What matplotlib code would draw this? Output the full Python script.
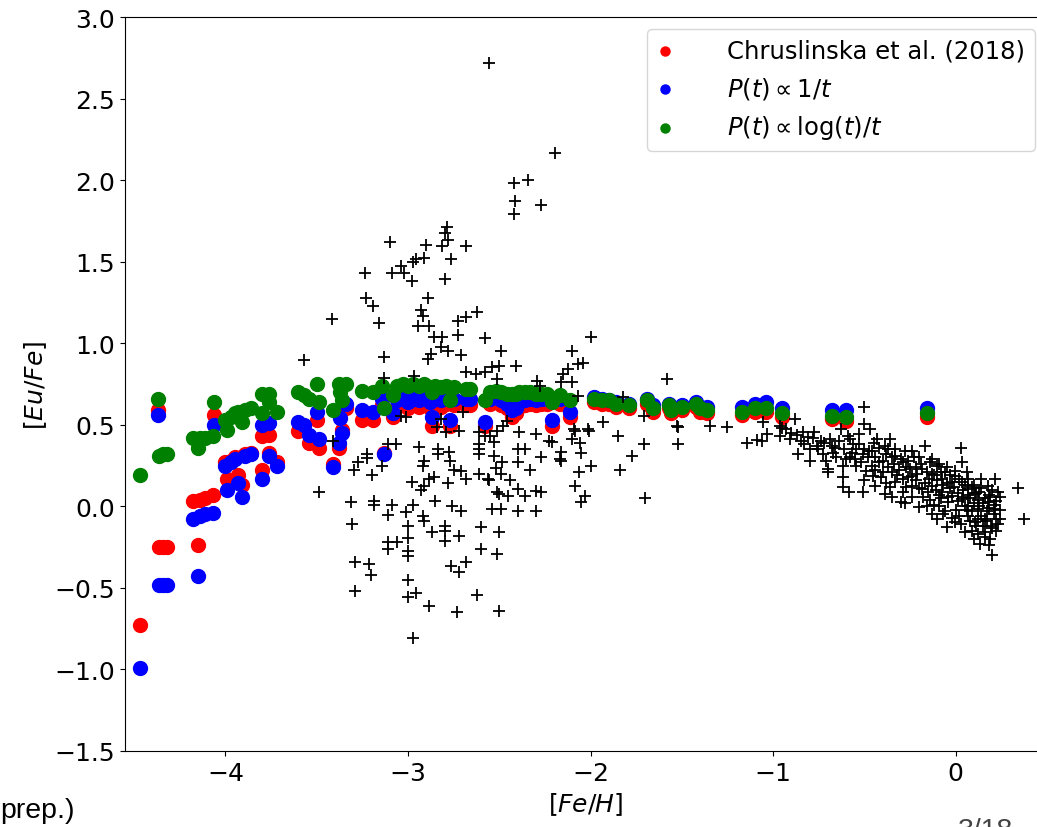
import numpy as np
import matplotlib
matplotlib.use("Agg")
import matplotlib.pyplot as plt

# model points: [Fe/H] and [Eu/Fe] for the three delay-time models
feh_model = [-4.47, -4.37, -4.365, -4.342, -4.32, -4.18, -4.15, -4.14, -4.11, -4.07,
             -4.06, -4.00, -3.99, -3.97, -3.95, -3.93, -3.91, -3.89, -3.86,
             -3.80, -3.80, -3.76, -3.76, -3.72,
             -3.60, -3.57, -3.54, -3.49, -3.50, -3.41,
             -3.38, -3.36, -3.34, -3.37, -3.25, -3.19, -3.13, -3.14, -3.08,
             -3.06, -3.03, -3.00, -2.97, -2.94, -2.91, -2.88, -2.87, -2.85, -2.82,
             -2.79, -2.77, -2.75, -2.68, -2.66, -2.58, -2.55, -2.52, -2.49, -2.46,
             -2.43, -2.41, -2.39, -2.36, -2.33, -2.30, -2.27, -2.24, -2.21, -2.17, -2.11,
             -1.98, -1.94, -1.90, -1.86, -1.79, -1.69, -1.66, -1.57, -1.56, -1.50,
             -1.42, -1.40, -1.36, -1.17, -1.10, -1.04, -0.95, -0.68, -0.60, -0.16]
eu_chrus = [-0.73, 0.59, -0.25, -0.25, -0.25, 0.03, -0.24, 0.04, 0.05, 0.07,
            0.56, 0.27, 0.17, 0.28, 0.30, 0.19, 0.13, 0.32, 0.33,
            0.43, 0.22, 0.44, 0.33, 0.27,
            0.46, 0.47, 0.39, 0.36, 0.53, 0.26,
            0.36, 0.47, 0.60, 0.58, 0.53, 0.53, 0.33, 0.62, 0.55,
            0.61, 0.62, 0.60, 0.62, 0.61, 0.63, 0.60, 0.49, 0.62, 0.61,
            0.63, 0.49, 0.62, 0.62, 0.62, 0.49, 0.63, 0.64, 0.62, 0.60,
            0.55, 0.57, 0.61, 0.62, 0.63, 0.62, 0.63, 0.63, 0.49, 0.63, 0.55,
            0.64, 0.63, 0.63, 0.61, 0.60, 0.63, 0.58, 0.60, 0.57, 0.59,
            0.61, 0.58, 0.57, 0.56, 0.58, 0.58, 0.55, 0.535, 0.525, 0.55]
eu_inv_t = [-0.99, 0.56, -0.48, -0.48, -0.48, -0.08, -0.43, -0.06, -0.05, -0.04,
            0.50, 0.25, 0.10, 0.27, 0.29, 0.14, 0.06, 0.31, 0.32,
            0.50, 0.17, 0.51, 0.31, 0.25,
            0.52, 0.50, 0.44, 0.41, 0.58, 0.24,
            0.39, 0.45, 0.63, 0.54, 0.59, 0.58, 0.32, 0.66, 0.57,
            0.65, 0.66, 0.64, 0.66, 0.65, 0.67, 0.64, 0.55, 0.66, 0.65,
            0.67, 0.53, 0.66, 0.66, 0.66, 0.52, 0.66, 0.67, 0.65, 0.63,
            0.59, 0.60, 0.64, 0.65, 0.66, 0.65, 0.66, 0.66, 0.53, 0.66, 0.58,
            0.67, 0.66, 0.65, 0.64, 0.63, 0.66, 0.62, 0.63, 0.60, 0.62,
            0.64, 0.61, 0.61, 0.61, 0.63, 0.64, 0.60, 0.59, 0.59, 0.60]
eu_log_t = [0.19, 0.66, 0.31, 0.32, 0.32, 0.42, 0.36, 0.42, 0.42, 0.43,
            0.64, 0.53, 0.47, 0.55, 0.57, 0.58, 0.52, 0.59, 0.60,
            0.69, 0.57, 0.69, 0.64, 0.58,
            0.70, 0.68, 0.66, 0.64, 0.75, 0.59,
            0.75, 0.65, 0.75, 0.70, 0.71, 0.70, 0.60, 0.74, 0.68,
            0.74, 0.75, 0.74, 0.75, 0.74, 0.75, 0.73, 0.70, 0.74, 0.73,
            0.74, 0.65, 0.73, 0.72, 0.72, 0.65, 0.70, 0.71, 0.70, 0.69,
            0.69, 0.69, 0.70, 0.70, 0.70, 0.69, 0.69, 0.69, 0.64, 0.68, 0.65,
            0.66, 0.65, 0.65, 0.63, 0.62, 0.65, 0.60, 0.62, 0.59, 0.61,
            0.63, 0.60, 0.59, 0.58, 0.60, 0.60, 0.57, 0.555, 0.545, 0.57]

# observed stars
feh_obs = [-2.554, -2.196, -2.417, -2.344, -2.413, -2.27, -2.417,
           -2.784, -2.80, -2.78, -3.10, -2.90, -2.815, -2.685, -2.957, -2.911, -2.975, -2.762,
           -3.237, -3.09, -3.04, -3.02, -2.98, -2.797, -3.23, -3.19, -2.89, -2.93, -2.92,
           -2.62, -2.685, -2.725, -3.418, -3.16, -2.947, -2.886, -2.725, -2.58, -2.857, -2.815,
           -2.82, -2.78, -2.49, -2.71, -2.875, -2.888, -3.13, -2.50, -2.685, -2.63, -2.576,
           -2.54, -2.51, -3.13, -2.966, -3.57,
           -2.00, -2.10, -2.41, -2.07, -2.04, -2.125, -2.15, -2.16, -2.10, -2.295, -2.276,
           -1.58, -2.07, -1.82, -1.71, -1.525, -1.93, -2.015, -2.09, -2.48,
           -3.04, -3.01, -2.82, -2.84, -2.79, -2.72, -2.70, -2.61, -2.58, -2.55, -2.46, -2.51,
           -2.39, -2.30, -2.21,
           -3.413, -3.11, -3.065, -3.223, -3.223, -3.274, -3.293, -3.14, -3.195, -2.94, -2.833,
           -2.833, -2.775, -2.77, -2.91, -2.92, -2.75, -2.71, -2.685, -2.61, -2.56, -2.98,
           -2.885, -2.857, -2.91, -2.93, -2.78, -3.49, -3.31, -3.185, -3.185, -3.085, -3.107,
           -2.975, -3.01, -2.85, -2.76, -2.71, -2.92, -2.91, -2.51, -2.54, -2.49, -3.304,
           -3.00, -2.80, -2.80, -2.868, -2.72, -2.60, -2.50, -3.00, -2.80, -3.107, -3.06,
           -3.11, -3.00, -3.00, -2.60, -2.51, -3.29, -3.216, -3.20, -2.766, -2.72, -2.685,
           -3.00, -3.29, -2.957, -3.00, -2.62, -2.885, -2.73, -2.50, -2.975,
           -2.61, -2.61, -2.61, -2.53, -2.53, -2.52,
           -2.395, -2.36, -2.395, -2.486, -2.49, -2.554, -2.44, -2.33, -2.27, -2.23, -2.16,
           -2.16, -2.10, -2.06, -2.05, -2.085, -2.01, -2.065, -2.00, -2.085, -2.03, -2.05,
           -1.85, -1.71, -1.775, -1.84, -1.52, -1.70, -2.40, -2.36, -2.30, -2.27, -2.50,
           -2.45, -2.40, -2.30, -2.17,
           -1.52, -1.344, -1.253, -1.145, -1.087, -1.063, -1.054, -1.036, -0.963, -0.882,
           -0.50, -0.928, -0.91, -0.837, -0.81, -0.774, -0.83, -0.80, -0.864, -0.80, -0.755,
           -0.728, -0.69, -0.68, -0.71, -0.70, -0.655, -0.62, -0.62, -0.63, -0.59, -0.565,
           -0.53, -0.50, -0.47, -0.43, -0.583, -0.51, -0.547, -0.51, -0.475, -0.44, -0.40,
           -0.547, -0.49, -0.455, -0.40, -0.44, -0.385, -0.348, -0.30, -0.36, -0.37, -0.33,
           -0.29, -0.24, -0.26, -0.22, -0.167, -0.13, -0.348, -0.29, -0.24, -0.185, -0.148,
           -0.24, -0.185, -0.13, -0.076, -0.20, -0.13, -0.094, -0.058, -0.004, 0.033, 0.069,
           -0.076, -0.022, 0.033, -0.04, 0.033, -0.05, -0.004, 0.069, 0.105, 0.141, 0.178,
           0.214, 0.069, 0.123, 0.178, 0.214, 0.069, 0.105, 0.16, 0.196, 0.241, 0.087, 0.16,
           0.223, -0.05, -0.004, 0.132, 0.20, 0.241, 0.341, 0.374, 0.029, -0.094, -0.70,
           -0.58, -0.52, -0.46, -0.42, -0.38, -0.34, -0.31, -0.28, -0.27, -0.25, -0.22, -0.20,
           -0.18, -0.16, -0.14, -0.12, -0.11, -0.10, -0.08, -0.07, -0.06, -0.03, -0.02, 0.00,
           0.01, 0.02, 0.04, 0.05, 0.06, 0.08, 0.09, 0.10, 0.11, 0.12, 0.13, 0.14, 0.15, 0.17,
           0.18, 0.19, 0.20, 0.21, 0.22, 0.23, 0.16, 0.12, -0.33, -0.36, -0.45, -0.58, -0.66,
           -0.74, -0.87, -0.96,
           -0.95, -0.90, -0.85, -0.78, -0.76, -0.72, -0.67, -0.64, -0.61, -0.60, -0.57, -0.55,
           -0.53, -0.50, -0.48, -0.46, -0.44, -0.42, -0.41, -0.39, -0.37, -0.35, -0.33, -0.32,
           -0.30, -0.29, -0.27, -0.26, -0.24, -0.23, -0.21, -0.20, -0.19, -0.17, -0.15, -0.14,
           -0.13, -0.12, -0.10, -0.09, -0.08, -0.07, -0.05, -0.04, -0.03, -0.02, -0.01, 0.01,
           0.02, 0.03, 0.04, 0.05, 0.06, 0.07, 0.08, 0.09, 0.10, 0.11, 0.12, 0.13, 0.14, 0.15,
           0.16, 0.17, 0.18, 0.19, 0.20, 0.21, 0.22, 0.23, 0.24, 0.10, 0.05, 0.18, -0.10, -0.16,
           -0.28, -0.38, -0.50, -0.62]
eu_obs = [2.72, 2.164, 1.98, 2.00, 1.87, 1.85, 1.79,
          1.711, 1.676, 1.635, 1.619, 1.602, 1.594, 1.598, 1.516, 1.52, 1.496, 1.516,
          1.43, 1.43, 1.475, 1.43, 1.383, 1.394, 1.275, 1.226, 1.275, 1.205, 1.169,
          1.189, 1.159, 1.138, 1.148, 1.124, 1.107, 1.107, 1.05, 1.03, 1.036, 1.036,
          0.975, 0.954, 0.954, 0.928, 0.934, 0.903, 0.913, 0.862, 0.825, 0.811, 0.821,
          0.852, 0.78, 0.785, 0.80, 0.90,
          1.036, 0.954, 0.862, 0.872, 0.879, 0.842, 0.811, 0.76, 0.76, 0.77, 0.74,
          0.78, 0.678, 0.668, 0.555, 0.494, 0.515, 0.474, 0.474, 0.494,
          0.555, 0.546, 0.535, 0.484, 0.454, 0.463, 0.576, 0.454, 0.433, 0.433, 0.525, 0.463,
          0.454, 0.443, 0.392,
          0.402, 0.382, 0.382, 0.321, 0.294, 0.273, 0.224, 0.245, 0.192, 0.362, 0.351,
          0.321, 0.331, 0.28, 0.28, 0.245, 0.224, 0.218, 0.167, 0.198, 0.167, 0.151,
          0.167, 0.178, 0.126, 0.102, 0.143, 0.09, 0.025, 0.034, 0.008, 0.008, -0.053,
          0.008, -0.037, 0.034, 0.004, -0.027, -0.058, -0.088, 0.086, -0.017, -0.017, -0.109,
          -0.123, -0.119, -0.15, -0.16, -0.18, -0.129, -0.16, -0.196, -0.211, -0.22, -0.22,
          -0.262, -0.272, -0.303, -0.262, -0.292, -0.343, -0.354, -0.421, -0.364, -0.405, -0.343,
          -0.45, -0.517, -0.532, -0.558, -0.544, -0.609, -0.646, -0.64, -0.809,
          0.382, 0.351, 0.321, 0.392, 0.31, 0.233,
          0.351, 0.351, 0.27, 0.27, 0.198, 0.163, 0.163, 0.224, 0.30, 0.402, 0.331,
          0.28, 0.413, 0.388, 0.327, 0.463, 0.463, 0.212, 0.245, 0.123, 0.065, 0.028,
          0.433, 0.382, 0.307, 0.224, 0.382, 0.049, 0.106, 0.065, 0.095, 0.09, 0.075,
          0.065, -0.027, -0.027, 0.29,
          0.484, 0.494, 0.484, 0.388, 0.408, 0.402, 0.515, 0.443, 0.494, 0.535,
          0.607, 0.474, 0.413, 0.454, 0.423, 0.454, 0.382, 0.351, 0.321, 0.28, 0.351,
          0.321, 0.413, 0.372, 0.28, 0.229, 0.30, 0.249, 0.178, 0.474, 0.433, 0.382,
          0.443, 0.505, 0.474, 0.413, 0.086, 0.086, 0.351, 0.321, 0.341, 0.30, 0.28,
          0.249, 0.218, 0.188, 0.208, 0.126, 0.075, 0.055, 0.025, 0.413, 0.351, 0.31,
          0.27, 0.341, 0.28, 0.239, 0.372, 0.29, 0.208, 0.167, 0.188, 0.229, 0.167,
          0.126, 0.106, 0.126, 0.167, -0.006, -0.047, 0.004, 0.208, 0.188, 0.147, 0.167,
          0.086, 0.065, 0.045, 0.025, 0.27, 0.239, 0.218, 0.106, 0.075, 0.167, 0.126,
          0.167, 0.004, -0.017, 0.025, -0.017, -0.058, -0.098, -0.078, -0.119, -0.078, -0.15, -0.16,
          -0.15, -0.129, -0.098, -0.231, -0.299, 0.055, 0.11, -0.078, 0.356, 0.259, 0.208,
          0.30, 0.27, 0.25, 0.36, 0.32, 0.26, 0.22, 0.34, 0.12, 0.23, 0.16, 0.30,
          0.06, 0.21, 0.04, 0.19, 0.10, 0.25, 0.05, 0.13, -0.03, 0.11, 0.15, -0.02,
          0.08, -0.06, 0.10, 0.00, 0.21, 0.05, -0.03, 0.13, -0.12, 0.04, 0.09, -0.06, 0.02, -0.03,
          0.07, -0.20, 0.10, -0.05, 0.03, -0.11, -0.19, -0.17, 0.15, 0.12, 0.39, 0.41, 0.36,
          0.40, 0.44, 0.43,
          0.48, 0.45, 0.40, 0.42, 0.37, 0.39, 0.33, 0.40, 0.35, 0.29, 0.33, 0.29,
          0.38, 0.35, 0.30, 0.34, 0.22, 0.27, 0.18, 0.37, 0.24, 0.30, 0.35, 0.19,
          0.29, 0.09, 0.24, 0.18, 0.06, 0.30, 0.20, 0.11, 0.26, 0.14, 0.09, 0.27,
          0.20, 0.01, 0.16, 0.07, 0.21, -0.05, 0.14, 0.06, 0.19, -0.07, 0.12, 0.03,
          0.17, -0.11, 0.06, 0.13, -0.02, 0.07, -0.09, 0.12, 0.02, 0.08, -0.08, 0.00, 0.11, -0.12,
          0.05, -0.09, -0.01, 0.06, -0.13, 0.01, -0.08, 0.09, -0.02, -0.20, -0.16, -0.24, -0.08, 0.00,
          0.02, 0.14, 0.16, 0.12]

fig = plt.figure(figsize=(10.37, 8.28), dpi=100)
ax = fig.add_axes([125 / 1037, 76 / 828, 922 / 1037, 734 / 828])

ax.scatter(feh_model, eu_chrus, s=100, c='r', label='Chruslinska et al. (2018)')
ax.scatter(feh_model, eu_inv_t, s=100, c='b', label=r'$P(t) \propto 1/t$')
ax.scatter(feh_model, eu_log_t, s=100, c='g', label=r'$P(t) \propto \log(t)/t$')
ax.scatter(feh_obs, eu_obs, s=85, marker='+', c='k', linewidths=1.3)

ax.set_xlim(-4.55, 0.5)
ax.set_ylim(-1.5, 3.0)
ax.set_xticks([-4, -3, -2, -1, 0])
ax.set_yticks(np.arange(-1.5, 3.01, 0.5))
ax.tick_params(labelsize=18)
ax.set_xlabel(r'$[Fe/H]$', fontsize=18)
ax.set_ylabel(r'$[Eu/Fe]$', fontsize=18)
ax.legend(loc='upper right', fontsize=17.5, markerscale=0.65,
          handlelength=0.7, handletextpad=2.2)

# slide text that is cut by the crop
fig.text(0.0, 10 / 828, 'prep.)', fontsize=20.5, family='Liberation Sans',
         ha='left', va='baseline')
fig.text(958 / 1037, 10 / 828, '3/18', fontsize=20.5, family='Liberation Sans',
         ha='left', va='top', color='#444444')

fig.savefig('out.png', dpi=100)
